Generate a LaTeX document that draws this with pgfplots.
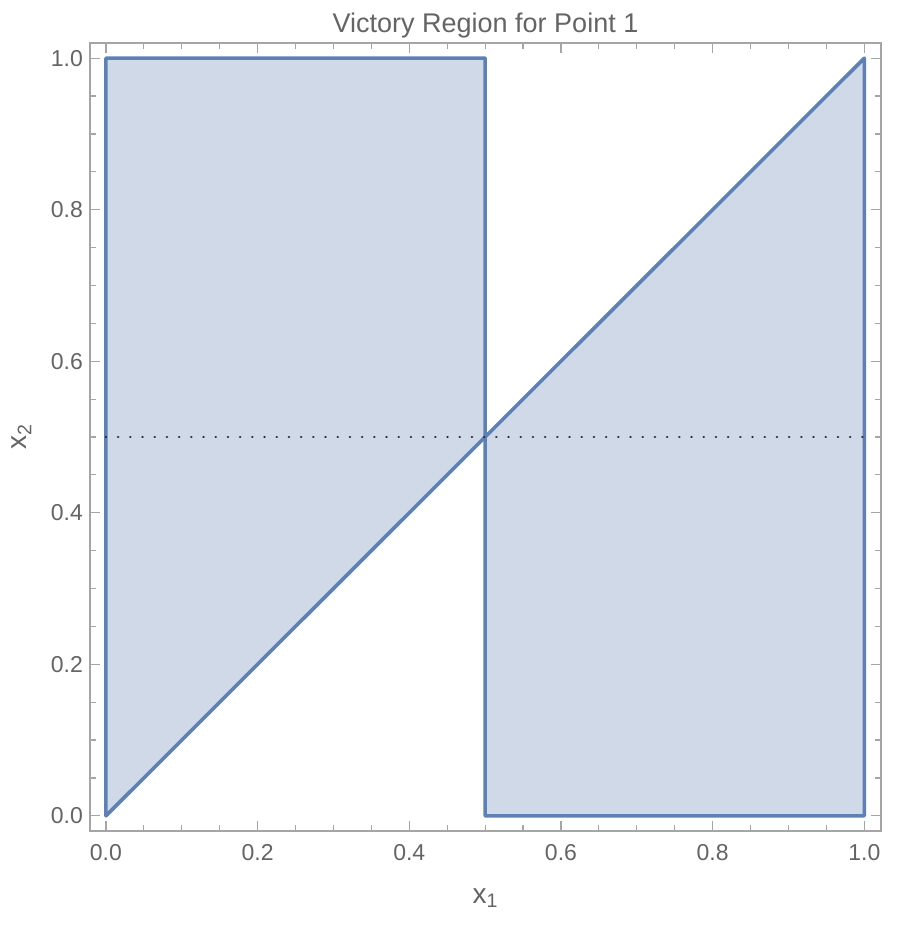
\documentclass[border=0pt]{standalone}
\usepackage{pgfplots}
\pgfplotsset{compat=1.18}
\usepackage{fontspec}
\setmainfont{Liberation Sans}

\definecolor{regblue}{RGB}{94,129,181}
\definecolor{regfill}{RGB}{207,217,232}
\definecolor{framegray}{RGB}{165,165,165}
\definecolor{textgray}{RGB}{100,100,100}

\begin{document}
\begin{tikzpicture}
\begin{axis}[
    scale only axis,
    width=395.5pt, height=394pt,
    xmin=-0.021, xmax=1.022,
    ymin=-0.02, ymax=1.02,
    xtick={0,0.2,0.4,0.6,0.8,1},
    ytick={0,0.2,0.4,0.6,0.8,1},
    minor tick num=3,
    tick align=inside,
    major tick length=5pt,
    minor tick length=3pt,
    axis line style={framegray, line width=0.75pt},
    tick style={framegray, line width=0.6pt},
    /pgf/number format/assume math mode=true,
    tick label style={textgray, font=\fontsize{11.5}{13}\selectfont,
        /pgf/number format/fixed, /pgf/number format/fixed zerofill,
        /pgf/number format/precision=1},
    xticklabel style={yshift=-3pt},
    every axis title shift=0pt,
    title={Victory Region for Point 1},
    title style={at={(axis description cs:0.5,1.0127)}, anchor=base,
        textgray, font=\fontsize{13.5}{16}\selectfont},
    xlabel={x\textsubscript{1}},
    xlabel style={at={(axis description cs:0.5,-0.0914)}, anchor=base,
        textgray, font=\fontsize{14}{16}\selectfont},
]
    % shaded regions
    \addplot[draw=none, fill=regfill] coordinates {
        (0,0) (0,1) (0.5,1) (0.5,0.5)
    } -- cycle;
    \addplot[draw=none, fill=regfill] coordinates {
        (0.5,0.5) (1,1) (1,0) (0.5,0)
    } -- cycle;

    % region boundaries
    \addplot[regblue, line width=1.8pt, line join=round] coordinates {
        (0,0) (0,1) (0.5,1) (0.5,0.5)
    } -- cycle;
    \addplot[regblue, line width=1.8pt, line join=round] coordinates {
        (0.5,0.5) (1,1) (1,0) (0.5,0)
    } -- cycle;

    % dotted line at x2 = 0.5, on top
    \addplot[black!85, line width=1.4pt, line cap=round,
        dash pattern=on 0.01pt off 6.09pt] coordinates {(0,0.5) (1,0.5)};

    \coordinate (sw) at (rel axis cs:0,0);
    \coordinate (ne) at (rel axis cs:1,1);
    \coordinate (ml) at (rel axis cs:0,0.5);
\end{axis}
% y label, set by hand so that it reads upwards
\node[rotate=90, anchor=base, textgray, font=\fontsize{14}{16}\selectfont]
    at ([xshift=-31.5pt]ml) {x\textsubscript{2}};
\pgfresetboundingbox
\path ([shift={(-45pt,-49.5pt)}]sw) rectangle ([shift={(12.5pt,21.5pt)}]ne);
\end{tikzpicture}
\end{document}
